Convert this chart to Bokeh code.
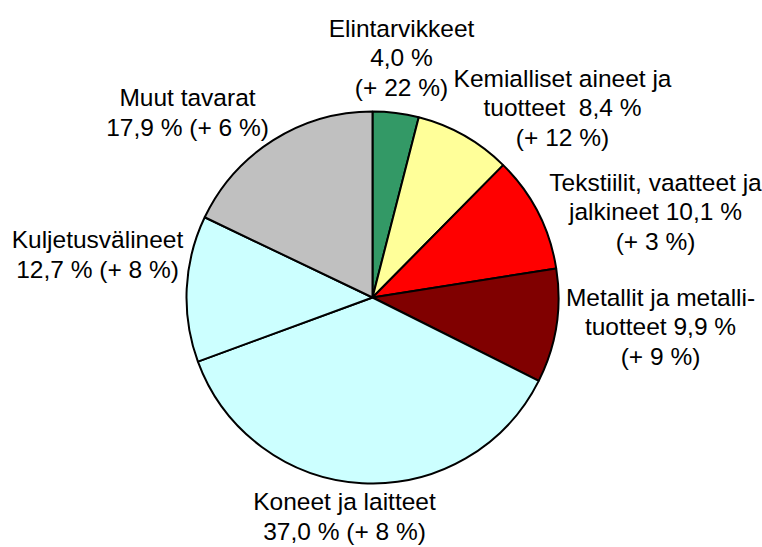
import math
from bokeh.plotting import figure
from bokeh.models import Range1d, ColumnDataSource
from bokeh.core.properties import value
from bokeh.embed import file_html
from bokeh.resources import INLINE

# ---- data (clockwise from 12 o'clock) ----
categories = ["Elintarvikkeet", "Kemialliset aineet ja tuotteet",
              "Tekstiilit, vaatteet ja jalkineet", "Metallit ja metallituotteet",
              "Koneet ja laitteet", "Kuljetusvälineet", "Muut tavarat"]
shares = [4.0, 8.4, 10.1, 9.9, 37.0, 12.7, 17.9]
changes = [22, 12, 3, 9, 8, 8, 6]
label_templates = [
    "Elintarvikkeet\n{v}\n{c}",
    "Kemialliset aineet ja\ntuotteet\u00a0 {v}\n{c}",
    "Tekstiilit, vaatteet ja\njalkineet {v}\n{c}",
    "Metallit ja metalli-\ntuotteet {v}\n{c}",
    "Koneet ja laitteet\n{v} {c}",
    "Kuljetusvälineet\n{v} {c}",
    "Muut tavarat\n{v} {c}",
]
colors = ["#339966", "#FFFF99", "#FF0000", "#800000", "#CCFFFF", "#CCFFFF", "#C0C0C0"]

# ---- layout (picture pixel coordinates) ----
W, H = 762, 547
CX, CY, R = 372, 297, 186
label_pos = [(401, 57), (562, 107), (655, 211), (660, 326),
             (344, 516), (97, 254), (187, 112)]
LINE_H = 29.5
FONT = "Liberation Sans"


def Y(py):
    return H - py


p = figure(width=W, height=H, output_backend="svg", toolbar_location=None,
           x_range=Range1d(0, W), y_range=Range1d(0, H),
           min_border=0, tools="")
p.axis.visible = False
p.grid.visible = False
p.outline_line_color = None
p.background_fill_color = "white"
p.border_fill_color = "white"

total = sum(shares)
starts, ends = [], []
cum = 0.0
for s in shares:
    starts.append(math.pi / 2 - cum / total * 2 * math.pi)
    cum += s
    ends.append(math.pi / 2 - cum / total * 2 * math.pi)

src = ColumnDataSource(dict(start=starts, end=ends, color=colors, cat=categories))
p.wedge(x=CX, y=Y(CY), radius=R, radius_units="screen",
        start_angle="start", end_angle="end", direction="clock",
        fill_color="color", line_color="black", line_width=2, source=src)

# labels
tx, ty, tt = [], [], []
for tmpl, s, c, (lx, ly) in zip(label_templates, shares, changes, label_pos):
    v = f"{s:.1f}".replace(".", ",") + " %"
    cc = f"(+ {c} %)"
    lines = tmpl.format(v=v, c=cc).split("\n")
    n = len(lines)
    for i, ln in enumerate(lines):
        tx.append(lx)
        ty.append(Y(ly + (i - (n - 1) / 2) * LINE_H))
        tt.append(ln)

p.text(x=tx, y=ty, text=tt, text_align="center", text_baseline="middle",
       text_font=value(FONT), text_font_size="24.5px", text_color="black")

open("out.html", "w").write(file_html(p, INLINE))
